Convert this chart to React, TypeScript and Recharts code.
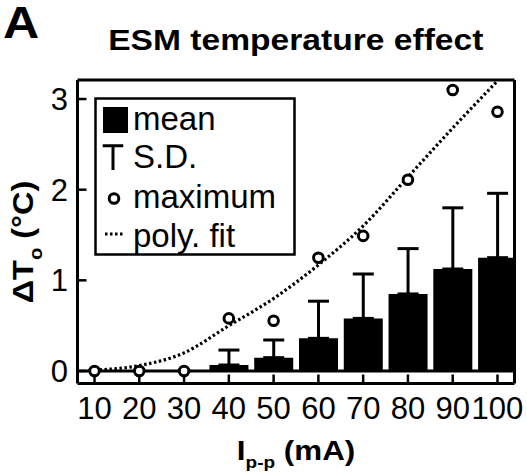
import {
  ComposedChart,
  Bar,
  Line,
  XAxis,
  YAxis,
  ErrorBar,
  ReferenceLine,
  Legend,
} from 'recharts'

// stimulation current, peak to peak (mA)
const currents = [10, 20, 30, 40, 50, 60, 70, 80, 90, 100]
// temperature rise (°C)
const meanRise = [0, 0, 0, 0.066, 0.147, 0.36, 0.58, 0.85, 1.125, 1.25]
const sdRise = [0, 0, 0, 0.165, 0.195, 0.41, 0.49, 0.5, 0.675, 0.71]
const maxRise = [0, 0, 0, 0.58, 0.555, 1.25, 1.49, 2.11, 3.1, 2.86]
const fitRise = [0.01, 0.06, 0.2, 0.5, 0.8, 1.17, 1.6, 2.14, 2.68, 3.2]
const yTicks = [0, 1, 2, 3]
const legendLabels = ['mean', 'S.D.', 'maximum', 'poly. fit']

const FONT = '"Liberation Sans", Arial, sans-serif'
const W = 527
const H = 474
const X_DOMAIN = [6.2, 103.8]
const Y_DOMAIN = [-0.138, 3.21]

const data = currents.map((c, i) => ({
  current: c,
  mean: meanRise[i],
  sd: [0, sdRise[i]],
  max: maxRise[i],
  fit: fitRise[i],
}))

// tick labels sit outside, tick lines point inward (negative tickSize)
function XTick(props: any) {
  const { x, y, payload } = props
  return (
    <text x={x} y={y + 44.8} textAnchor="middle" fontSize={31} fontFamily={FONT} fill="#000">
      {payload.value}
    </text>
  )
}

function YTick(props: any) {
  const { x, y, payload } = props
  return (
    <text x={x - 18.5} y={y + 11} textAnchor="end" fontSize={31} fontFamily={FONT} fill="#000">
      {payload.value}
    </text>
  )
}

function LegendBox() {
  const rowY = [33, 71.3, 111.3, 149.7]
  return (
    <svg width={202} height={159} style={{ display: 'block' }}>
      <rect x={1.5} y={1.5} width={199} height={156} fill="#fff" stroke="#000" strokeWidth={2.5} />
      <rect x={9} y={10} width={25} height={26} fill="#000" />
      <path d="M8.7 48.7 H29.3 M19 48.7 V73" stroke="#000" strokeWidth={3} fill="none" />
      <circle cx={20} cy={101.5} r={4.8} fill="#fff" stroke="#000" strokeWidth={3} />
      <line x1={11} y1={137} x2={31} y2={137} stroke="#000" strokeWidth={3.2} strokeDasharray="2.5 2.5" />
      {legendLabels.map((label, i) => (
        <text key={label} x={39} y={rowY[i]} fontSize={33} fontFamily={FONT} fill="#000">
          {label}
        </text>
      ))}
    </svg>
  )
}

export default function App() {
  const axisLine = { stroke: '#000', strokeWidth: 3 }
  const tickLine = { stroke: '#000', strokeWidth: 2.5 }
  return (
    <div style={{ position: 'relative', width: W, height: H, background: '#fff' }}>
      <style>{'body{margin:0}'}</style>
      <ComposedChart
        width={W}
        height={H}
        data={data}
        margin={{ top: 79, right: 11.5, bottom: 0, left: 0 }}
      >
        <XAxis
          dataKey="current"
          type="number"
          domain={X_DOMAIN}
          ticks={currents}
          interval={0}
          allowDataOverflow
          height={90.5}
          axisLine={axisLine}
          tickLine={tickLine}
          tickSize={-9}
          tickMargin={0}
          tick={<XTick />}
        />
        <XAxis
          xAxisId="top"
          dataKey="current"
          orientation="top"
          type="number"
          domain={X_DOMAIN}
          ticks={currents}
          interval={0}
          allowDataOverflow
          height={1}
          axisLine={axisLine}
          tickLine={tickLine}
          tickSize={-9}
          tick={false}
        />
        <YAxis
          type="number"
          domain={Y_DOMAIN}
          ticks={yTicks}
          interval={0}
          allowDataOverflow
          width={77.5}
          axisLine={axisLine}
          tickLine={tickLine}
          tickSize={-9}
          tickMargin={0}
          tick={<YTick />}
        />
        <YAxis
          yAxisId="right"
          orientation="right"
          type="number"
          domain={Y_DOMAIN}
          ticks={yTicks}
          interval={0}
          allowDataOverflow
          width={1}
          axisLine={axisLine}
          tickLine={tickLine}
          tickSize={-9}
          tick={false}
        />
        <ReferenceLine y={0} stroke="#000" strokeWidth={3} />
        <Bar dataKey="mean" fill="#000" barSize={39} isAnimationActive={false}>
          <ErrorBar dataKey="sd" width={10.5} stroke="#000" strokeWidth={3} direction="y" />
        </Bar>
        {/* invisible series so the top and right frame axes are in use */}
        <Line
          xAxisId="top"
          yAxisId="right"
          dataKey="fit"
          stroke="none"
          dot={false}
          activeDot={false}
          legendType="none"
          isAnimationActive={false}
        />
        <Line
          dataKey="fit"
          type="monotone"
          stroke="#000"
          strokeWidth={3.2}
          strokeDasharray="2.5 2.5"
          dot={false}
          activeDot={false}
          isAnimationActive={false}
        />
        <Line
          dataKey="max"
          stroke="none"
          dot={{ r: 4.8, fill: '#fff', stroke: '#000', strokeWidth: 3 }}
          activeDot={false}
          isAnimationActive={false}
        />
        <Legend
          layout="vertical"
          align="center"
          verticalAlign="middle"
          wrapperStyle={{ left: 94, top: 97, width: 202, height: 159 }}
          content={() => <LegendBox />}
        />
      </ComposedChart>
      <svg
        width={W}
        height={H}
        style={{ position: 'absolute', left: 0, top: 0, pointerEvents: 'none' }}
        fontFamily={FONT}
      >
        <text transform="translate(3,38) scale(1.14,1)" fontSize={44} fontWeight="bold">
          A
        </text>
        <text
          transform="translate(295.8,50) scale(1.12,1)"
          textAnchor="middle"
          fontSize={30}
          fontWeight="bold"
        >
          ESM temperature effect
        </text>
        <text
          transform="translate(33,242) rotate(-90) scale(1.12,1)"
          textAnchor="middle"
          fontSize={29}
          fontWeight="bold"
        >
          ΔT
          <tspan dy={9} fontSize={18}>o</tspan>
          <tspan dy={-9}> (°C)</tspan>
        </text>
        <text
          transform="translate(296,460) scale(1.12,1)"
          textAnchor="middle"
          fontSize={28}
          fontWeight="bold"
        >
          I
          <tspan dy={8} fontSize={17}>p-p</tspan>
          <tspan dy={-8}> (mA)</tspan>
        </text>
      </svg>
    </div>
  )
}
